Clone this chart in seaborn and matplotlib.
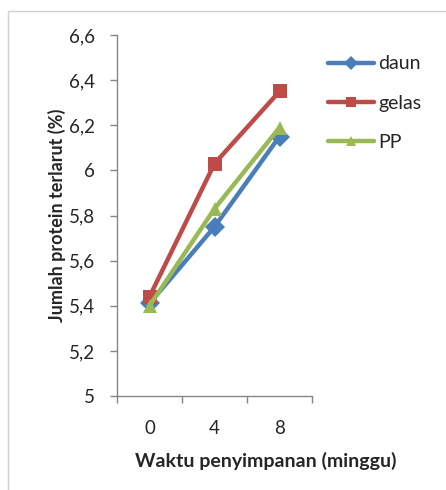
import pandas as pd
import matplotlib.pyplot as plt
import seaborn as sns
from matplotlib.patches import Rectangle
from matplotlib.ticker import FixedLocator, FuncFormatter

sns.set_style('white')
plt.rcParams['font.family'] = ['Lato', 'DejaVu Sans']

# data
weeks = ['0', '4', '8']
daun = [5.41, 5.75, 6.15]
gelas = [5.44, 6.03, 6.35]
pp = [5.40, 5.83, 6.19]

series = {'daun': daun, 'gelas': gelas, 'PP': pp}
df = pd.DataFrame([
    {'minggu': w, 'protein': v, 'wadah': name}
    for name, vals in series.items()
    for w, v in zip(weeks, vals)
])

palette = {'daun': '#4a7ebb', 'gelas': '#be4b48', 'PP': '#98b954'}
gray = '#868686'

fig = plt.figure(figsize=(4.46, 4.9), dpi=100)
fig.patches.append(Rectangle((8 / 446, -0.1), 1.2, (479 / 490) + 0.1,
                             transform=fig.transFigure, fill=False,
                             edgecolor='#d0d0d0', linewidth=1))
ax = fig.add_axes([117 / 446, 94 / 490, 195 / 446, 361 / 490])

sns.lineplot(ax=ax, data=df, x='minggu', y='protein', hue='wadah',
             style='wadah', markers={'daun': 'D', 'gelas': 's', 'PP': '^'},
             dashes=False, palette=palette, linewidth=3.2, markersize=10,
             markeredgewidth=0)

ax.set_xlim(-0.5, 2.5)
ax.set_ylim(5, 6.6)
ax.yaxis.set_major_locator(FixedLocator([5 + 0.2 * i for i in range(9)]))
ax.yaxis.set_major_formatter(FuncFormatter(
    lambda v, p: ('%.1f' % v).rstrip('0').rstrip('.').replace('.', ',')))
ax.xaxis.set_minor_locator(FixedLocator([-0.5, 0.5, 1.5, 2.5]))
ax.tick_params(axis='x', which='major', length=0, pad=17, labelsize=13.5)
ax.tick_params(axis='x', which='minor', length=5, color=gray, width=1,
               direction='out', bottom=True)
ax.tick_params(axis='y', length=5, color=gray, width=1, direction='out',
               left=True, pad=11, labelsize=13.5)

for side in ['top', 'right']:
    ax.spines[side].set_visible(False)
for side in ['left', 'bottom']:
    ax.spines[side].set_color(gray)
    ax.spines[side].set_linewidth(1)

ax.set_xlabel('Waktu penyimpanan (minggu)', fontsize=14, fontweight='bold',
              labelpad=9)
ax.xaxis.set_label_coords(0.764, -0.155)
ax.set_ylabel('Jumlah protein terlarut (%)', fontsize=13, fontweight='bold',
              labelpad=2)

ax.legend(loc='upper left', bbox_to_anchor=(1.04, 0.965), frameon=False,
          fontsize=14, labelspacing=1.15, handlelength=2.4, handletextpad=0.2,
          borderaxespad=0, markerscale=0.7)

fig.savefig('out.png', dpi=100)
